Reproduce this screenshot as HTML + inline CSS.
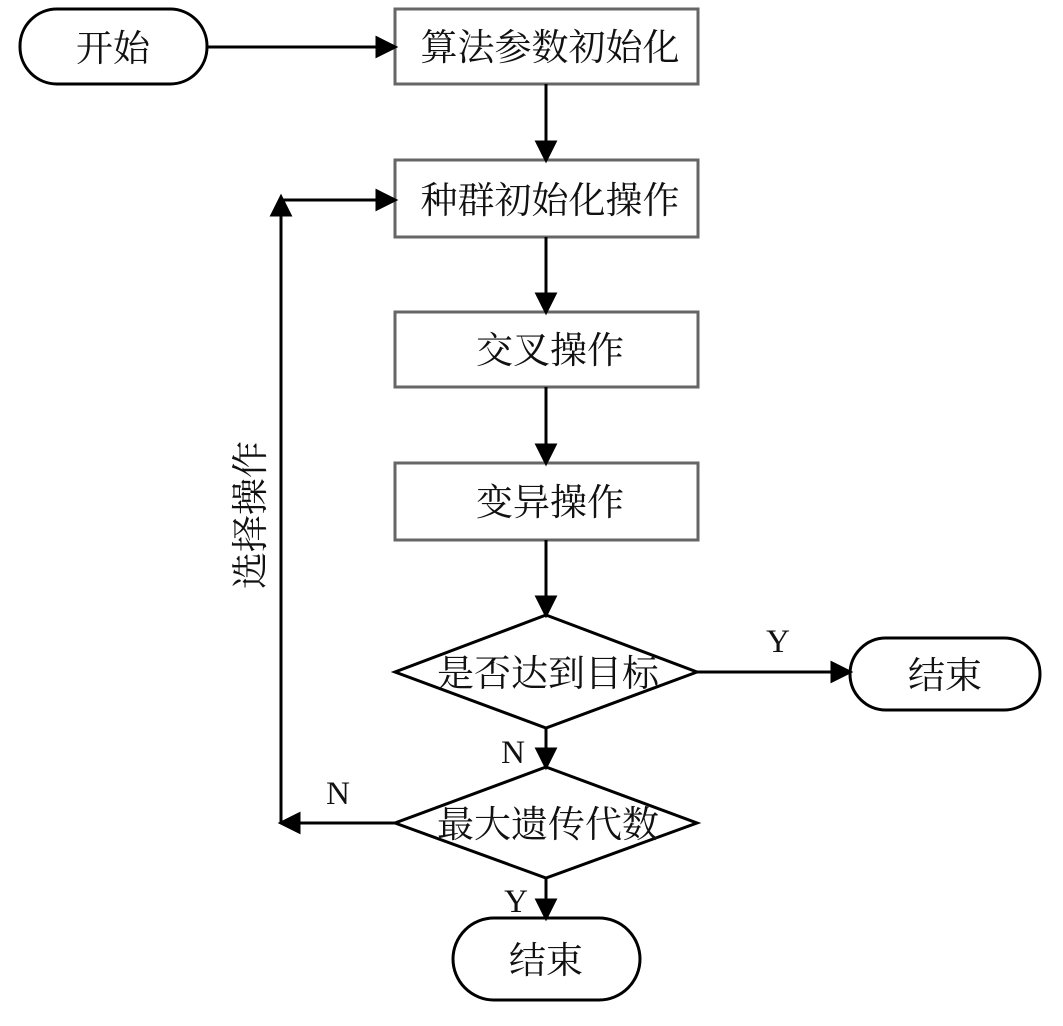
<!DOCTYPE html>
<html><head><meta charset="utf-8"><style>
html,body{margin:0;padding:0;background:#fff;}
svg text{font-family:"Liberation Serif","Noto Serif CJK SC","Noto Sans CJK SC",serif;fill:#111;}
</style></head><body>
<svg width="1063" height="1021" viewBox="0 0 1063 1021" xmlns="http://www.w3.org/2000/svg">
<g stroke="#000" stroke-width="3" fill="none">
<rect x="20" y="9" width="187" height="75" rx="37" ry="37"/>
<rect x="850" y="638" width="190" height="72" rx="36" ry="36"/>
<rect x="453" y="918" width="187" height="82" rx="41" ry="41"/>
<polygon points="546,615 697,672 546,728 395,672"/>
<polygon points="546,767 697,823 546,878 395,823"/>
</g>
<g stroke="#666" stroke-width="3" fill="none">
<rect x="395" y="9" width="303" height="75"/>
<rect x="395" y="160" width="303" height="77"/>
<rect x="395" y="312" width="303" height="75"/>
<rect x="395" y="463" width="303" height="77"/>
</g>
<g stroke="#000" stroke-width="3" fill="#000">
<line x1="207" y1="47" x2="380" y2="47"/><polygon points="377,38 395,47 377,56"/>
<line x1="546" y1="84" x2="546" y2="145"/><polygon points="537,142 546,160 555,142"/>
<line x1="546" y1="237" x2="546" y2="297"/><polygon points="537,294 546,312 555,294"/>
<line x1="546" y1="387" x2="546" y2="448"/><polygon points="537,445 546,463 555,445"/>
<line x1="546" y1="540" x2="546" y2="600"/><polygon points="537,597 546,615 555,597"/>
<line x1="697" y1="672" x2="835" y2="672"/><polygon points="832,663 850,672 832,681"/>
<line x1="546" y1="728" x2="546" y2="752"/><polygon points="537,749 546,767 555,749"/>
<line x1="546" y1="878" x2="546" y2="903"/><polygon points="537,900 546,918 555,900"/>
<line x1="395" y1="823" x2="296" y2="823"/><polygon points="299,814 281,823 299,832"/>
<line x1="281" y1="823" x2="281" y2="212"/><polygon points="272,215 281,197 290,215"/>
<line x1="281" y1="200" x2="380" y2="200"/><polygon points="377,191 395,200 377,209"/>
</g>
<g font-size="37" text-anchor="middle">
<text x="113" y="61">开始</text>
<text x="550" y="60">算法参数初始化</text>
<text x="550" y="213">种群初始化操作</text>
<text x="550" y="363">交叉操作</text>
<text x="550" y="515">变异操作</text>
<text x="548" y="686">是否达到目标</text>
<text x="548" y="837">最大遗传代数</text>
<text x="945" y="688">结束</text>
<text x="546" y="973">结束</text>
<text x="778" y="652" font-size="33">Y</text>
<text x="513" y="763" font-size="33">N</text>
<text x="338" y="804" font-size="33">N</text>
<text x="516" y="912" font-size="33">Y</text>
<text transform="translate(263,515) rotate(-90)">选择操作</text>
</g>
</svg>
</body></html>
